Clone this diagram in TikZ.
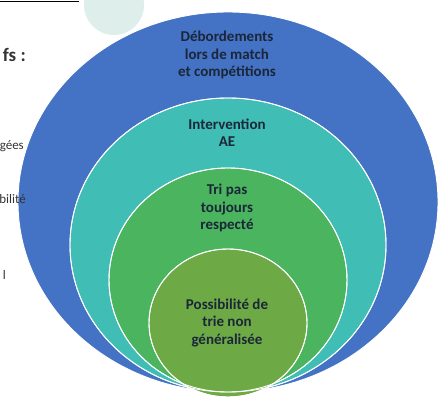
\documentclass[tikz,border=0pt]{standalone}
\usepackage{fontspec}
\setmainfont{Carlito}
\usetikzlibrary{positioning}

\definecolor{ringblue}{HTML}{4472C4}
\definecolor{ringteal}{HTML}{40BDB5}
\definecolor{ringgreen}{HTML}{4BB45E}
\definecolor{ringolive}{HTML}{6DAA45}
\definecolor{palemint}{HTML}{DDEEEB}
\definecolor{lbltext}{HTML}{1B2638}

\begin{document}
\begin{tikzpicture}[x=1pt, y=-1pt,
  % Ring styles
  ring/.style={draw=white, line width=0.9pt},
  % Label styles
  lbl/.style={font=\fontsize{15}{17.2}\selectfont\bfseries, text=lbltext, align=center, inner sep=0pt},
  side/.style={font=\fontsize{13}{15}\selectfont, text=black!80, inner sep=0pt, anchor=east},
]
\useasboundingbox (0,0) rectangle (446,401);
\clip (0,0) rectangle (446,401);

% === Background bits of the slide ===
\fill[palemint] (114,5) circle (30);
\draw[black, line width=1.4pt] (0,1.5) -- (79,1.5);

% === Nested rings ===
\fill[ring, fill=ringblue]  (228,202) ellipse [x radius=210, y radius=190];
\fill[ring, fill=ringteal]  (228,245) ellipse [x radius=158, y radius=147];
\fill[ring, fill=ringgreen] (228,280) ellipse [x radius=119, y radius=112];
\fill[ring, fill=ringolive] (228,323) ellipse [x radius=79, y radius=74];
\draw[ring] (228,245) ellipse [x radius=158, y radius=147];
\draw[ring] (228,280) ellipse [x radius=119, y radius=112];
\draw[ring] (228,323) ellipse [x radius=79, y radius=74];

% === Slide text cut off on the left ===
\node[side, font=\fontsize{19}{21}\selectfont\bfseries] (ttl) at (26,55) {fs :};
\node[side] (itA) at (24,146) {gées};
\node[side] (itB) at (26,199) {bilité};
\node[side] (itC) at (6,275) {l};

% === Ring labels ===
\node[lbl] (debord) at (227,55)  {Débordements\\lors de match\\et compétitions};
\node[lbl] (interv) at (227,133) {Intervention\\AE};
\node[lbl] (tripas) at (227,208) {Tri pas\\toujours\\respecté};
\node[lbl] (possib) at (227,323) {Possibilité de\\trie non\\généralisée};

\end{tikzpicture}
\end{document}
